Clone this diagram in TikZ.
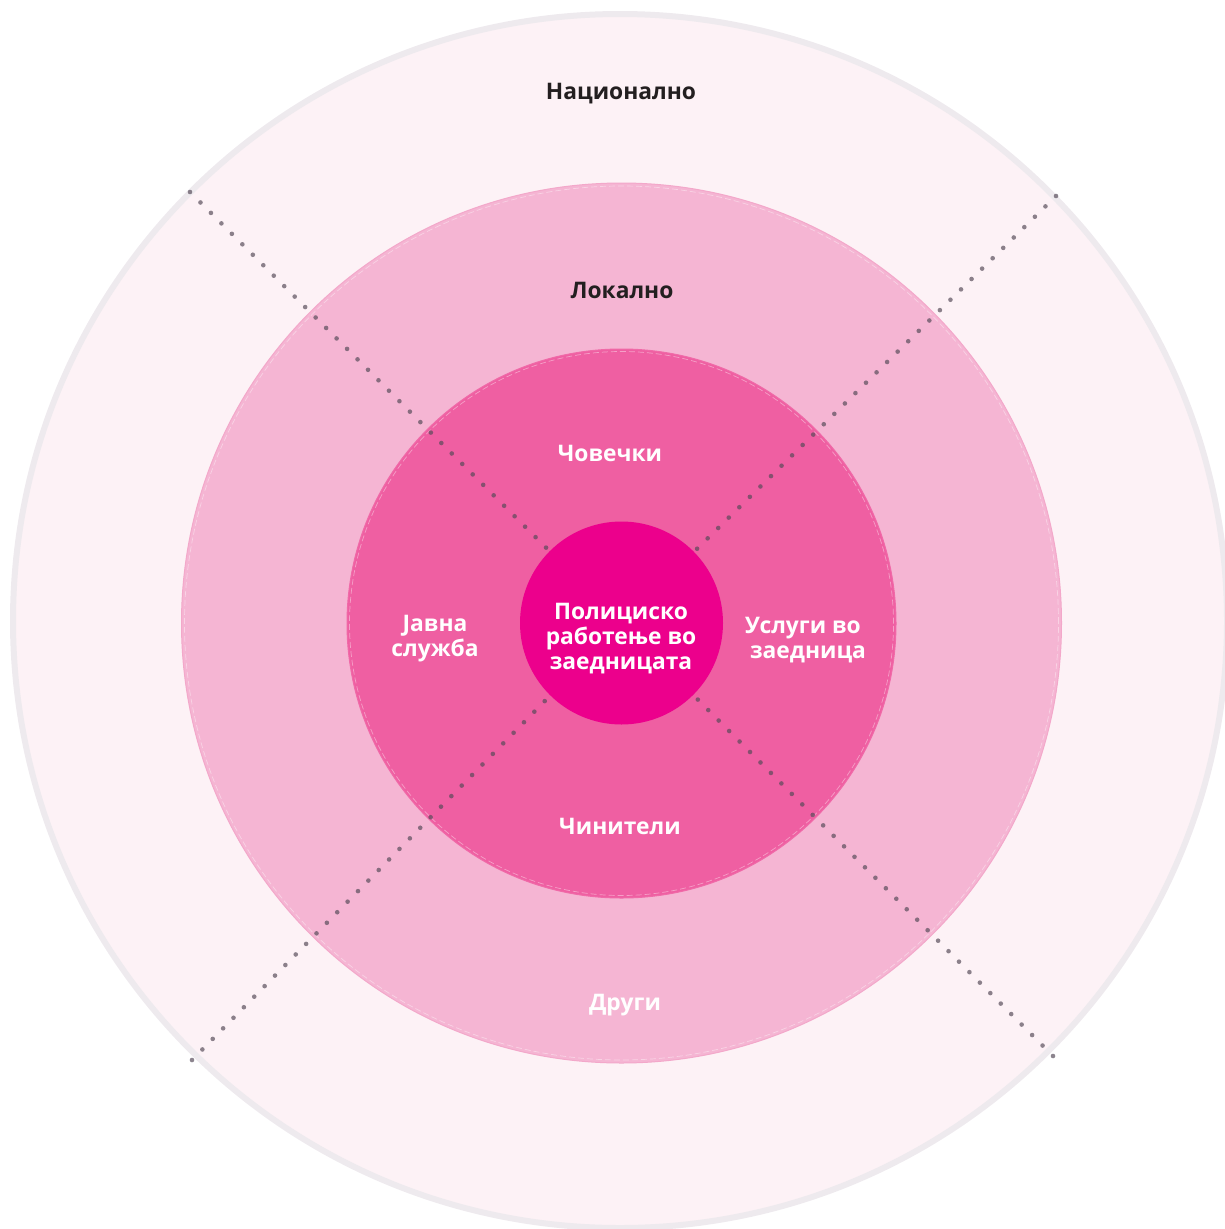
\documentclass[tikz,border=0pt]{standalone}
\usepackage{fontspec}
\usetikzlibrary{calc}
\setmainfont{Open Sans}
\definecolor{outerfill}{HTML}{FDF2F6}
\definecolor{outerline}{HTML}{EEEAEE}
\definecolor{localfill}{HTML}{F5B5D3}
\definecolor{localline}{HTML}{F3A8CA}
\definecolor{humanfill}{HTML}{EF5FA2}
\definecolor{humanline}{HTML}{F06AA8}
\definecolor{corefill}{HTML}{EC008C}
\definecolor{darktext}{HTML}{231F20}
\definecolor{dotcol}{HTML}{554A58}
\tikzset{
  ring/.style={circle, inner sep=0pt, outer sep=0pt},
  seam/.style={draw=white, draw opacity=0.4, line width=0.7pt, dash pattern=on 6pt off 3pt},
  dotline/.style={draw=dotcol, draw opacity=0.68, line width=4.6pt, line cap=round, dash pattern=on 0pt off 14.8pt},
  lbl/.style={font=\bfseries\fontsize{22.8}{25}\selectfont, align=center, inner sep=0pt},
  dlbl/.style={lbl, text=darktext},
  wlbl/.style={lbl, text=white}
}
\begin{document}
\begin{tikzpicture}[x=1pt,y=-1pt]
\useasboundingbox (0,0) rectangle (1224,1229);
% circles
\node[ring, fill=outerfill, draw=outerline, line width=6pt, minimum size=1214pt] (nat) at (620,621) {};
\node[ring, fill=localfill, draw=localline, line width=1pt, minimum size=880pt] (loc) at (621.5,623) {};
\node[ring, seam, minimum size=874pt] (locseam) at (621.5,623) {};
\node[ring, fill=humanfill, draw=humanline, line width=1pt, minimum size=549pt] (hum) at (621.5,623.5) {};
\node[ring, seam, minimum size=544pt] (humseam) at (621.5,623.5) {};
% dotted lines
\coordinate (c) at (621.5,623);
\coordinate (nw) at (190,192);
\coordinate (ne) at (1056,196);
\coordinate (se) at (1053,1056);
\coordinate (sw) at (192,1060);
\coordinate (nwi) at ($(c)!103pt!(nw)$);
\coordinate (nei) at ($(c)!103pt!(ne)$);
\coordinate (sei) at ($(c)!103pt!(se)$);
\coordinate (swi) at ($(c)!103pt!(sw)$);
\draw[dotline] (nw) -- (nwi);
\draw[dotline] (ne) -- (nei);
\draw[dotline] (se) -- (sei);
\draw[dotline] (sw) -- (swi);
% core
\node[ring, fill=corefill, minimum size=203pt] (core) at (621.5,623) {};
% labels
\node[dlbl] (tnat) at (621,94) {Национално};
\node[dlbl] (tloc) at (622,290) {Локално};
\node[wlbl] (thum) at (610,453) {Човечки};
\node[wlbl] (tjav) at (435,639) {Јавна\\служба};
\node[wlbl] (tcore) at (621,639) {Полициско\\работење во\\заедницата};
\node[wlbl] (tusl) at (803,640) {Услуги во\\\hspace*{10pt}заедница};
\node[wlbl] (tcin) at (620,826) {Чинители};
\node[wlbl] (tdru) at (625,1005) {Други};
\end{tikzpicture}
\end{document}
